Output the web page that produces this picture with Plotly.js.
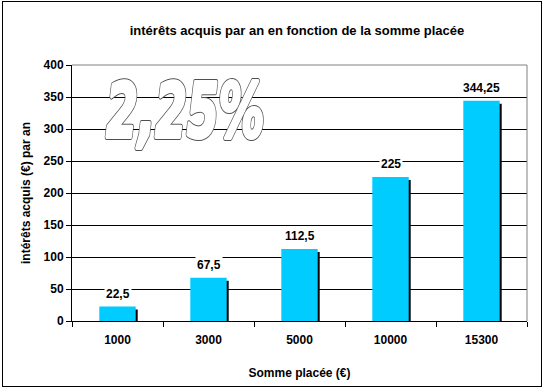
<!DOCTYPE html>
<html>
<head>
<meta charset="utf-8">
<script src="https://cdn.plot.ly/plotly-3.0.1.min.js"></script>
<style>
  html, body { margin: 0; padding: 0; background: #fff; }
  #wrap { position: relative; width: 551px; height: 392px; }
  #chart { position: absolute; left: 0; top: 0; width: 551px; height: 392px; }
  #frame { position: absolute; left: 2px; top: 1px; width: 538px; height: 384px;
           border: 1px solid #000; pointer-events: none; }
</style>
</head>
<body>
<div id="wrap">
  <div id="chart"></div>
  <div id="frame"></div>
</div>
<script>
// ---- data ----
const categories = ['1000', '3000', '5000', '10000', '15300'];
const interets = [22.5, 67.5, 112.5, 225, 344.25];
const yTicks = [0, 50, 100, 150, 200, 250, 300, 350, 400];
const rateLabel = '2,25%';
const chartTitle = 'intérêts acquis par an en fonction de la somme placée';
const xTitle = 'Somme placée (€)';
const yTitle = 'intérêts acquis (€) par an';

// ---- style ----
const FONT = 'Liberation Sans, Arial, Helvetica, sans-serif';
const barColor = '#00CCFF';
const barWidth = 0.4;
const plotH = 392 - 65 - 71;             // plot height in px
const yMax = 400;
const shadowDxPx = 2, shadowDyPx = 3;
const catPx = (551 - 72 - 24) / categories.length;
const shadowDx = shadowDxPx / catPx;
const shadowDy = shadowDyPx * yMax / plotH;

const shadow = {
  type: 'bar', x: categories, y: interets,
  base: interets.map(() => -shadowDy),
  width: barWidth, offset: -barWidth / 2 + shadowDx,
  marker: { color: '#000', line: { width: 0 } },
  hoverinfo: 'skip', showlegend: false
};
const bars = {
  type: 'bar', x: categories, y: interets,
  width: barWidth, offset: -barWidth / 2,
  marker: { color: barColor, line: { width: 0 } },
  showlegend: false
};

const annotations = [{
  xref: 'paper', yref: 'paper', x: 0.25, y: 0.82,
  xanchor: 'center', yanchor: 'middle', showarrow: false,
  text: rateLabel,
  font: { family: 'DejaVu Sans, Liberation Sans, sans-serif', size: 74, color: '#fff', weight: 700, style: 'italic' }
}];
categories.forEach((c, i) => {
  annotations.push({
    x: i, y: interets[i], xref: 'x', yref: 'y',   // category serial number
    text: String(interets[i]).replace('.', ','),
    showarrow: false, yanchor: 'middle', yshift: 13,
    bgcolor: '#fff', borderpad: 1,
    font: { family: FONT, size: 12, color: '#000', weight: 700 }
  });
});

const layout = {
  width: 551, height: 392,
  margin: { l: 72, r: 24, t: 65, b: 71, pad: 0 },
  paper_bgcolor: '#fff', plot_bgcolor: '#fff',
  barmode: 'overlay',
  font: { family: FONT, size: 12, color: '#000' },
  title: {
    text: chartTitle, x: 0.539, xanchor: 'center',
    y: 1 - 30 / 392, yanchor: 'middle', yref: 'container',
    font: { family: FONT, size: 13, color: '#000', weight: 700 }
  },
  xaxis: {
    type: 'category', categoryorder: 'array', categoryarray: categories,
    range: [-0.5, categories.length - 0.5], automargin: true,
    tickson: 'boundaries', ticks: 'outside', ticklen: 5, tickwidth: 1, tickcolor: '#000',
    showline: true, linecolor: '#000', linewidth: 1,
    showgrid: false, zeroline: false, ticklabelstandoff: 8,
    tickfont: { family: FONT, size: 12, color: '#000', weight: 700 },
    title: { text: xTitle, standoff: 22, font: { family: FONT, size: 12, color: '#000', weight: 700 } }
  },
  yaxis: {
    range: [0, yMax], tickvals: yTicks, ticktext: yTicks.map(String),
    ticks: 'outside', ticklen: 5, tickwidth: 1, tickcolor: '#000',
    showline: true, linecolor: '#000', linewidth: 1,
    showgrid: true, gridcolor: '#000', gridwidth: 1, zeroline: false,
    tickfont: { family: FONT, size: 12, color: '#000', weight: 700 },
    title: { text: yTitle, standoff: 10, font: { family: FONT, size: 12, color: '#000', weight: 700 } }
  },
  shapes: [{
    type: 'path', xref: 'paper', yref: 'paper', layer: 'above',
    path: 'M 0,1 L 1,1 L 1,0', line: { color: '#808080', width: 1 }
  }],
  annotations: annotations
};

Plotly.newPlot('chart', [shadow, bars], layout, { staticPlot: true, displayModeBar: false }).then(() => {
  // heavy, condensed outlined display type for the rate label
  const t = document.querySelector('.annotation[data-index="0"] text');
  if (t) {
    t.setAttribute('textLength', '158');
    t.setAttribute('lengthAdjust', 'spacingAndGlyphs');
    const outline = t.cloneNode(true);
    outline.style.stroke = '#505050';
    outline.style.strokeWidth = '6px';
    outline.style.strokeLinejoin = 'round';
    t.parentNode.insertBefore(outline, t);
    t.style.stroke = '#ffffff';
    t.style.strokeWidth = '4px';
    t.style.strokeLinejoin = 'round';
    t.style.paintOrder = 'stroke fill';
  }
});
</script>
</body>
</html>
